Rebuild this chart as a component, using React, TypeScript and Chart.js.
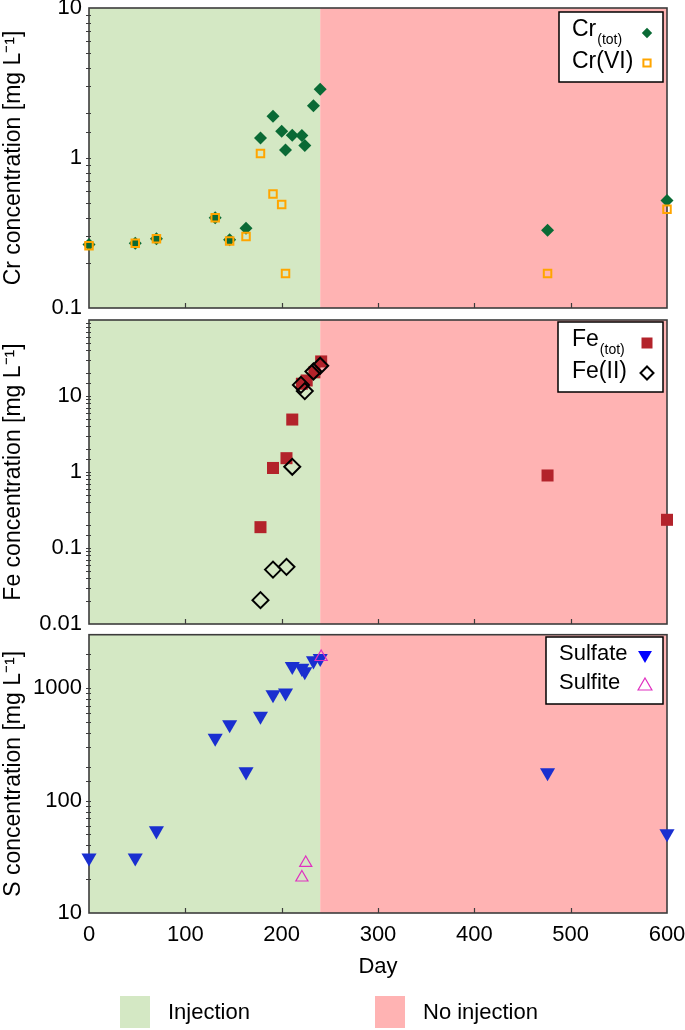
import React, { useEffect, useRef } from 'react';
import { Chart, registerables } from 'chart.js';

Chart.register(...registerables);

const FONT = '"Liberation Sans", Arial, Helvetica, sans-serif';

// ---------- shared x axis ----------
const dayMin = 0;
const dayMax = 600;
const dayStep = 100;
const injectionEndDay = 240;
const periodLabels = ['Injection', 'No injection'];

// ---------- Cr panel ----------
const crTotDays = [0, 48, 70, 131, 146, 163, 178, 191, 200, 204, 211, 221, 224, 233, 240, 476, 600];
const crTotValues = [0.265, 0.27, 0.29, 0.4, 0.285, 0.34, 1.36, 1.9, 1.51, 1.13, 1.42, 1.41, 1.21, 2.23, 2.87, 0.33, 0.52];
const crVIDays = [0, 48, 70, 131, 146, 163, 178, 191, 200, 204, 476, 600];
const crVIValues = [0.26, 0.27, 0.29, 0.4, 0.28, 0.3, 1.07, 0.575, 0.49, 0.17, 0.17, 0.455];
const crTickLabels = [0.1, 1, 10];

// ---------- Fe panel ----------
const feTotDays = [178, 191, 205, 211, 221, 226, 234, 241, 476, 600];
const feTotValues = [0.188, 1.13, 1.52, 4.9, 14.5, 16, 20.5, 28.5, 0.9, 0.235];
const feIIDays = [178, 191, 205, 211, 220, 224, 233, 240];
const feIIValues = [0.0206, 0.052, 0.0565, 1.17, 14, 11.6, 21, 25];
const feTickLabels = [0.01, 0.1, 1, 10];

// ---------- S panel ----------
const sulfateDays = [0, 48, 70, 131, 146, 163, 178, 191, 204, 211, 221, 224, 233, 240, 476, 600];
const sulfateValues = [31, 31, 54, 360, 475, 181, 565, 880, 910, 1570, 1510, 1410, 1760, 1850, 178, 51];
const sulfiteDays = [221, 225, 241];
const sulfiteValues = [20.7, 27.9, 1900];
const sTickLabels = [10, 100, 1000];

// ---------- colours ----------
const GREEN_BG = '#d4e8c4';
const RED_BG = '#ffb3b3';
const CR_TOT = '#0a6a35';
const CR_VI = '#ffa500';
const FE_TOT = '#b3232b';
const FE_II = '#000000';
const SULFATE = '#1a2fd0';
const SULFITE = '#e030c0';
const FRAME = '#3c3c3c';

const W = 685;
const PLOT_LEFT = 89;
const PLOT_RIGHT = 667;

function pts(xs: number[], ys: number[]) {
  return xs.map((x, i) => ({ x, y: ys[i] }));
}

function drawMarker(ctx: CanvasRenderingContext2D, kind: string, x: number, y: number, r: number, fill: string | null, stroke: string | null, lw: number) {
  ctx.beginPath();
  if (kind === 'diamond') {
    ctx.moveTo(x, y - r); ctx.lineTo(x + r, y); ctx.lineTo(x, y + r); ctx.lineTo(x - r, y); ctx.closePath();
  } else if (kind === 'square') {
    ctx.rect(x - r, y - r, 2 * r, 2 * r);
  } else if (kind === 'triDown') {
    ctx.moveTo(x - r * 0.866, y - r / 2); ctx.lineTo(x + r * 0.866, y - r / 2); ctx.lineTo(x, y + r); ctx.closePath();
  } else {
    ctx.moveTo(x, y - r); ctx.lineTo(x + r * 0.866, y + r / 2); ctx.lineTo(x - r * 0.866, y + r / 2); ctx.closePath();
  }
  if (fill) { ctx.fillStyle = fill; ctx.fill(); }
  if (stroke) { ctx.strokeStyle = stroke; ctx.lineWidth = lw; ctx.stroke(); }
}

const panelPlugin = {
  id: 'panelDecor',
  beforeDatasetsDraw(chart: any, _args: any, opts: any) {
    const { ctx, chartArea: a, scales } = chart;
    const x = scales.x;
    const y = scales.y;
    const xEnd = x.getPixelForValue(injectionEndDay);
    ctx.save();
    ctx.fillStyle = GREEN_BG;
    ctx.fillRect(a.left, a.top, xEnd - a.left, a.bottom - a.top);
    ctx.fillStyle = RED_BG;
    ctx.fillRect(xEnd, a.top, a.right - xEnd, a.bottom - a.top);
    ctx.strokeStyle = FRAME;
    ctx.lineWidth = 1.2;
    ctx.beginPath();
    for (let d = dayMin + dayStep; d < dayMax; d += dayStep) {
      const px = Math.round(x.getPixelForValue(d)) + 0.5;
      ctx.moveTo(px, a.bottom);
      ctx.lineTo(px, a.bottom - 5);
    }
    for (const t of y.ticks) {
      const py = y.getPixelForValue(t.value);
      if (py < a.top + 1 || py > a.bottom - 1) continue;
      ctx.moveTo(a.left - 3, Math.round(py) + 0.5);
      ctx.lineTo(a.left + 2, Math.round(py) + 0.5);
    }
    ctx.stroke();
    ctx.lineWidth = 1.6;
    ctx.strokeRect(a.left, a.top, a.right - a.left, a.bottom - a.top);
    ctx.restore();
  },
  afterDraw(chart: any, _args: any, opts: any) {
    const lg = opts && opts.legend;
    if (!lg) return;
    const { ctx } = chart;
    ctx.save();
    ctx.fillStyle = '#ffffff';
    ctx.fillRect(lg.box.x, lg.box.y, lg.box.w, lg.box.h);
    ctx.strokeStyle = '#000';
    ctx.lineWidth = 1.5;
    ctx.strokeRect(lg.box.x, lg.box.y, lg.box.w, lg.box.h);
    for (const e of lg.entries) {
      ctx.fillStyle = '#000';
      ctx.textBaseline = 'middle';
      ctx.textAlign = 'left';
      ctx.font = `${lg.fontSize}px ${FONT}`;
      ctx.fillText(e.main, lg.textX, e.y);
      if (e.sub) {
        const w = ctx.measureText(e.main).width;
        ctx.font = `14px ${FONT}`;
        ctx.fillText(e.sub, lg.textX + w + 1, e.y + 10);
      }
      drawMarker(ctx, e.marker, lg.markerX, e.my, e.r, e.fill, e.stroke, e.lw);
    }
    ctx.restore();
  },
};

function yScale(min: number, max: number, labels: number[], title: string) {
  return {
    type: 'logarithmic',
    position: 'left',
    min,
    max,
    afterFit: (s: any) => { s.width = PLOT_LEFT; s.paddingTop = 0; s.paddingBottom = 0; },
    grid: { display: false, drawTicks: false },
    border: { display: false },
    ticks: {
      autoSkip: false,
      padding: 7,
      color: '#000',
      font: { family: FONT, size: 22 },
      callback: (v: any) => {
        const n = Number(v);
        return labels.some((l) => Math.abs(l - n) / l < 1e-6) ? String(n) : '';
      },
    },
    title: { display: true, text: title, color: '#000', font: { family: FONT, size: 23 }, padding: 0 },
  };
}

function xScale(show: boolean) {
  return {
    type: 'linear',
    position: 'bottom',
    min: dayMin,
    max: dayMax,
    display: show,
    afterFit: (s: any) => { if (show) s.height = 70; s.paddingLeft = 0; s.paddingRight = 0; },
    grid: { display: false, drawTicks: false },
    border: { display: false },
    ticks: { stepSize: dayStep, autoSkip: false, maxRotation: 0, padding: 9, color: '#000', font: { family: FONT, size: 22 } },
    title: { display: true, text: 'Day', color: '#000', font: { family: FONT, size: 22 }, padding: { top: 0, bottom: 3 } },
  };
}

function makeConfig(p: any) {
  return {
    type: 'scatter',
    data: { datasets: p.datasets },
    options: {
      responsive: false,
      devicePixelRatio: 1,
      animation: false,
      events: [],
      layout: { padding: { left: 0, right: W - PLOT_RIGHT, top: 8, bottom: p.padBottom } },
      scales: { x: xScale(p.showX), y: yScale(p.yMin, p.yMax, p.yLabels, p.yTitle) },
      plugins: { legend: { display: false }, tooltip: { enabled: false }, panelDecor: { legend: p.legend } },
    },
    plugins: [panelPlugin],
  };
}

const crConfig = () => makeConfig({
  showX: false, padBottom: 17, yMin: 0.1, yMax: 10, yLabels: crTickLabels,
  yTitle: 'Cr concentration [mg L\u207B\u00B9]',
  datasets: [
    { label: 'Cr(VI)', data: pts(crVIDays, crVIValues), order: 0, clip: false, pointStyle: 'rect', pointRadius: 5.3, backgroundColor: 'rgba(0,0,0,0)', borderColor: CR_VI, borderWidth: 2 },
    { label: 'Cr(tot)', data: pts(crTotDays, crTotValues), order: 1, clip: false, pointStyle: 'rectRot', pointRadius: 6.5, backgroundColor: CR_TOT, borderColor: CR_TOT, borderWidth: 0 },
  ],
  legend: {
    box: { x: 559, y: 12, w: 104, h: 70 }, textX: 572, markerX: 647, fontSize: 23,
    entries: [
      { main: 'Cr', sub: '(tot)', y: 30, my: 33, marker: 'diamond', r: 5.2, fill: CR_TOT, stroke: null, lw: 0 },
      { main: 'Cr(VI)', y: 62, my: 63, marker: 'square', r: 3.6, fill: null, stroke: CR_VI, lw: 2 },
    ],
  },
});

const feConfig = () => makeConfig({
  showX: false, padBottom: 11, yMin: 0.01, yMax: 100, yLabels: feTickLabels,
  yTitle: 'Fe concentration [mg L\u207B\u00B9]',
  datasets: [
    { label: 'Fe(II)', data: pts(feIIDays, feIIValues), order: 0, clip: false, pointStyle: 'rectRot', pointRadius: 8, backgroundColor: 'rgba(0,0,0,0)', borderColor: FE_II, borderWidth: 2 },
    { label: 'Fe(tot)', data: pts(feTotDays, feTotValues), order: 1, clip: false, pointStyle: 'rect', pointRadius: 8.5, backgroundColor: FE_TOT, borderColor: FE_TOT, borderWidth: 0 },
  ],
  legend: {
    box: { x: 558, y: 12, w: 105, h: 70 }, textX: 572, markerX: 647, fontSize: 23,
    entries: [
      { main: 'Fe', sub: '(tot)', y: 30, my: 33, marker: 'square', r: 5.5, fill: FE_TOT, stroke: null, lw: 0 },
      { main: 'Fe(II)', y: 62, my: 63, marker: 'diamond', r: 6.5, fill: null, stroke: FE_II, lw: 2 },
    ],
  },
});

const sConfig = () => makeConfig({
  showX: true, padBottom: 23, yMin: 10, yMax: 3000, yLabels: sTickLabels,
  yTitle: 'S concentration [mg L\u207B\u00B9]',
  datasets: [
    { label: 'Sulfite', data: pts(sulfiteDays, sulfiteValues), order: 0, clip: false, pointStyle: 'triangle', pointRadius: 7, backgroundColor: 'rgba(0,0,0,0)', borderColor: SULFITE, borderWidth: 1.2 },
    { label: 'Sulfate', data: pts(sulfateDays, sulfateValues), order: 1, clip: false, pointStyle: 'triangle', rotation: 180, pointRadius: 8.7, backgroundColor: SULFATE, borderColor: SULFATE, borderWidth: 0 },
  ],
  legend: {
    box: { x: 546, y: 11, w: 117, h: 67 }, textX: 559, markerX: 645, fontSize: 22,
    entries: [
      { main: 'Sulfate', y: 28, my: 29, marker: 'triDown', r: 8, fill: '#0000ff', stroke: null, lw: 0 },
      { main: 'Sulfite', y: 57, my: 60, marker: 'triUp', r: 8, fill: null, stroke: SULFITE, lw: 1.2 },
    ],
  },
});

function Panel({ top, height, config }: { top: number; height: number; config: () => any }) {
  const ref = useRef<HTMLCanvasElement>(null);
  useEffect(() => {
    const chart = new Chart(ref.current as HTMLCanvasElement, config() as any);
    return () => chart.destroy();
  }, []);
  return (
    <canvas
      ref={ref}
      width={W}
      height={height}
      style={{ position: 'absolute', left: 0, top, width: W, height }}
    />
  );
}

export default function App() {
  const legendText: React.CSSProperties = {
    position: 'absolute', top: 996, height: 32, lineHeight: '32px', fontSize: 22, fontFamily: FONT, color: '#000', whiteSpace: 'nowrap',
  };
  return (
    <div style={{ position: 'absolute', left: 0, top: 0, width: W, height: 1030, background: '#fff', overflow: 'hidden' }}>
      <Panel top={0} height={325} config={crConfig} />
      <Panel top={310} height={325} config={feConfig} />
      <Panel top={626} height={380} config={sConfig} />
      <div style={{ position: 'absolute', left: 120, top: 996, width: 30, height: 32, background: GREEN_BG }} />
      <div style={{ ...legendText, left: 168 }}>{periodLabels[0]}</div>
      <div style={{ position: 'absolute', left: 375, top: 996, width: 30, height: 32, background: RED_BG }} />
      <div style={{ ...legendText, left: 423 }}>{periodLabels[1]}</div>
    </div>
  );
}
